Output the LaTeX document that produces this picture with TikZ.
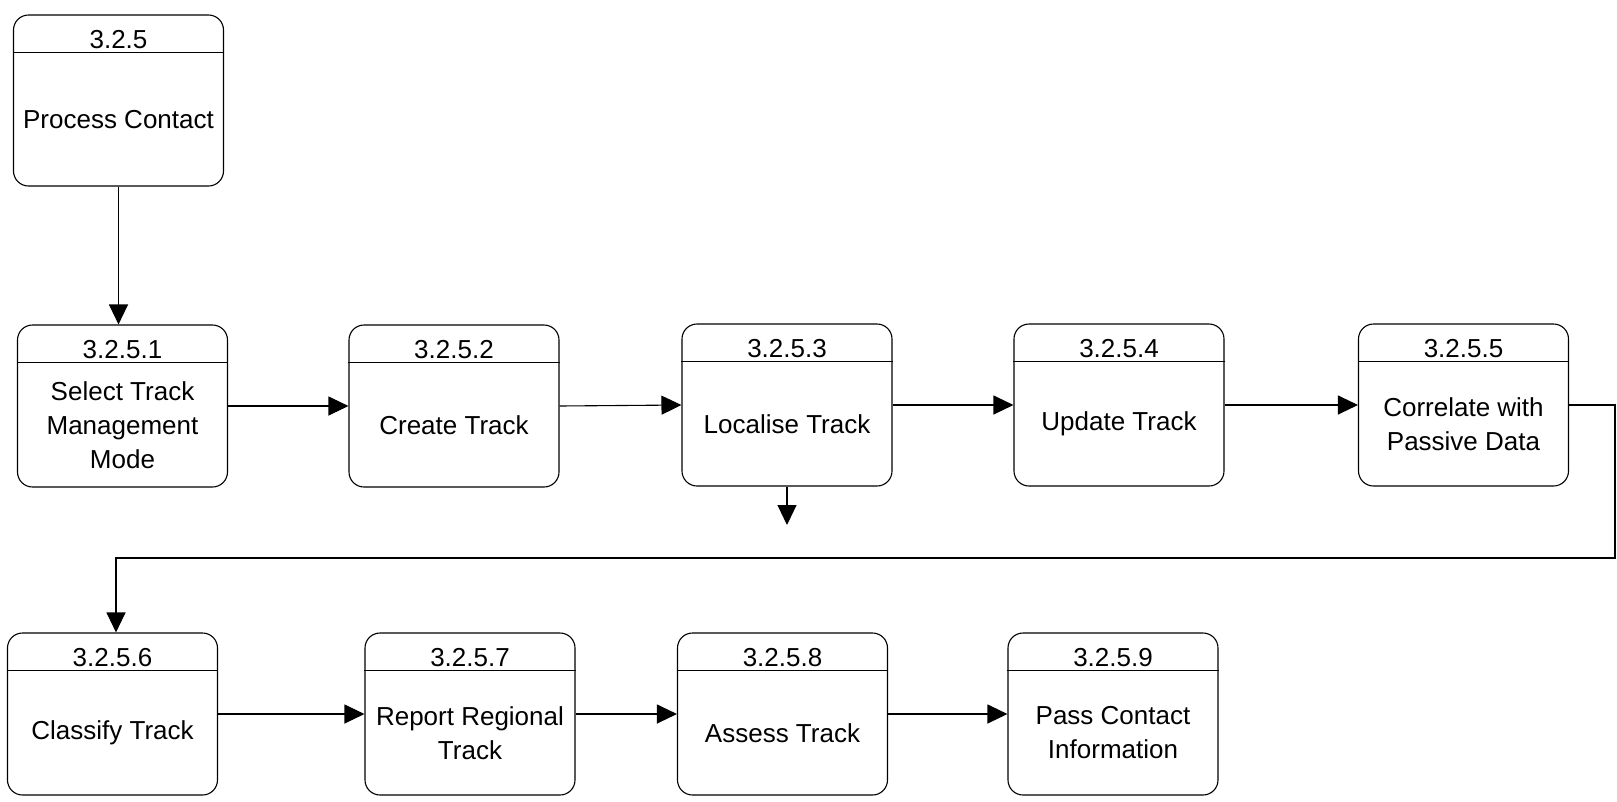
\documentclass[tikz,border=0pt]{standalone}
\usepackage{fontspec}
\setmainfont{Liberation Sans}
\usetikzlibrary{arrows.meta}
\tikzset{
  proc/.style={draw, line width=1.1pt, rounded corners=15pt, minimum width=210pt, inner sep=0pt},
  divline/.style={line width=1.1pt},
  ttl/.style={anchor=base, inner sep=0pt, font=\fontsize{26}{34}\selectfont},
  txt/.style={align=center, inner sep=0pt, font=\fontsize{26}{34}\selectfont},
  arr/.style={line width=1.1pt, -{Triangle[length=20pt,width=19pt]}},
}
\newcommand\procbox[6]{%
  \node[proc, minimum height=#4] (#1) at (#2,#3) {};
  \draw[divline] ([yshift=-38pt]#1.north west) -- ([yshift=-38pt]#1.north east);
  \node[ttl] (#1t) at ([yshift=-34pt]#1.north) {#5};
  \node[txt] (#1x) at ([yshift=-19pt]#1.center) {#6};
}
\begin{document}
\begin{tikzpicture}[x=1pt,y=-1pt]
  \useasboundingbox (0,0) rectangle (1617,801);
  \procbox{b0}{118.5}{100.5}{171pt}{3.2.5}{Process Contact}
  \procbox{b1}{122.5}{406}{162pt}{3.2.5.1}{Select Track\\Management\\Mode}
  \procbox{b2}{454}{406}{162pt}{3.2.5.2}{Create Track}
  \procbox{b3}{787}{405}{162pt}{3.2.5.3}{Localise Track}
  \procbox{b4}{1119}{405}{162pt}{3.2.5.4}{Update Track}
  \procbox{b5}{1463.5}{405}{162pt}{3.2.5.5}{Correlate with\\Passive Data}
  \procbox{b6}{112.5}{714}{162pt}{3.2.5.6}{Classify Track}
  \procbox{b7}{470}{714}{162pt}{3.2.5.7}{Report Regional\\Track}
  \procbox{b8}{782.5}{714}{162pt}{3.2.5.8}{Assess Track}
  \procbox{b9}{1113}{714}{162pt}{3.2.5.9}{Pass Contact\\Information}

  \coordinate (c3) at (787,525);
  \coordinate (r1) at (1615,558);
  \coordinate (r2) at (116,558);

  \draw[arr] (b0.south) -- (b0.south |- b1.north);
  \draw[arr] (b1.east) -- (b2.west);
  \draw[arr] (b2.east) -- (b3.west);
  \draw[arr] (b3.east) -- (b4.west);
  \draw[arr] (b4.east) -- (b5.west);
  \draw[arr] (b3.south) -- (c3);
  \draw[arr] (b5.east) -| (r1) -- (r2) -- (r2 |- b6.north);
  \draw[arr] (b6.east) -- (b7.west);
  \draw[arr] (b7.east) -- (b8.west);
  \draw[arr] (b8.east) -- (b9.west);
\end{tikzpicture}
\end{document}
